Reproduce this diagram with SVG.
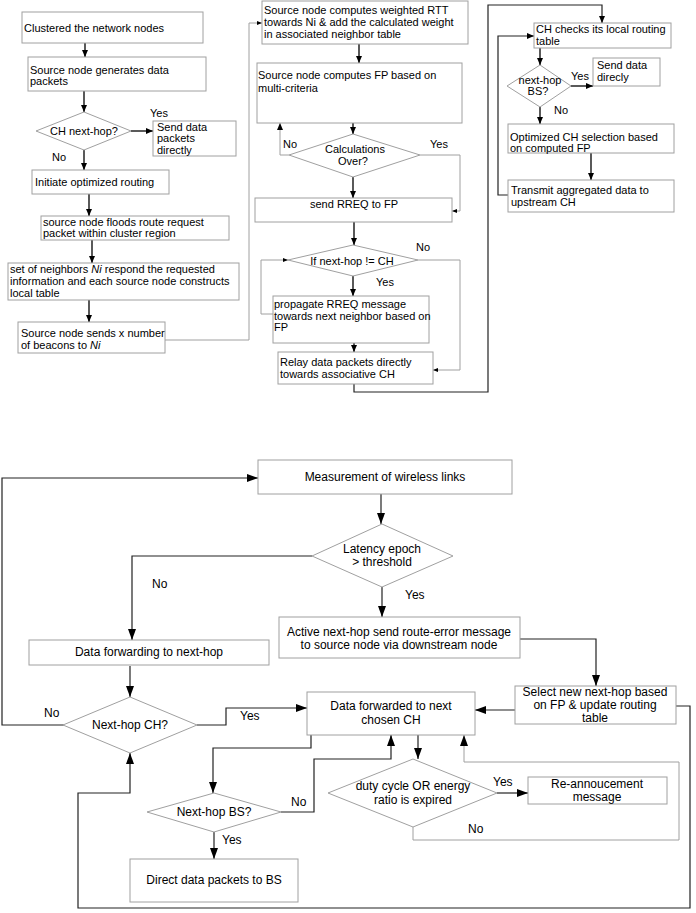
<svg xmlns="http://www.w3.org/2000/svg" width="696" height="913" viewBox="0 0 696 913">
<defs>
<marker id="ah" markerWidth="7" markerHeight="6" refX="7" refY="3" orient="auto" markerUnits="userSpaceOnUse"><path d="M0,0 L7,3 L0,6 z" fill="#000"/></marker>
<marker id="ahs" markerWidth="5" markerHeight="4" refX="5" refY="2" orient="auto" markerUnits="userSpaceOnUse"><path d="M0,0 L5,2 L0,4 z" fill="#000"/></marker>
<marker id="ahb" markerWidth="11" markerHeight="8" refX="11" refY="4" orient="auto" markerUnits="userSpaceOnUse"><path d="M0,0 L11,4 L0,8 z" fill="#000"/></marker>
</defs>
<style>
.box{fill:#fff;stroke:#a0a0a0;stroke-width:1}
.t{font-family:"Liberation Sans",Arial,sans-serif;font-size:11px;fill:#000}
.b{font-family:"Liberation Sans",Arial,sans-serif;font-size:12px;fill:#000}
.c{text-anchor:middle}
.k{fill:none;stroke:#000;stroke-width:1.3}
.g{fill:none;stroke:#a0a0a0;stroke-width:1}
.d{fill:none;stroke:#222;stroke-width:1.2}
</style>
<rect width="696" height="913" fill="#fff"/>

<g id="connectors">
<path class="k" d="M85,43 V57" marker-end="url(#ah)"/>
<path class="k" d="M84,91 V112" marker-end="url(#ah)"/>
<path class="k" d="M131,131 H153" marker-end="url(#ah)"/>
<path class="k" d="M84,150 V170" marker-end="url(#ah)"/>
<path class="k" d="M89,194 V216" marker-end="url(#ah)"/>
<path class="k" d="M92,240 V263" marker-end="url(#ah)"/>
<path class="k" d="M89,300 V322" marker-end="url(#ah)"/>
<path class="g" d="M165,340 H249 V23 H262" marker-end="url(#ahs)"/>
<path class="k" d="M359,44 V63" marker-end="url(#ah)"/>
<path class="k" d="M353,123 V134" marker-end="url(#ah)"/>
<path class="g" d="M289,155 H280 V123" marker-end="url(#ah)"/>
<path class="g" d="M420,155 H460 V211 H452" marker-end="url(#ahs)"/>
<path class="k" d="M353,177 V198" marker-end="url(#ah)"/>
<path class="k" d="M354,222 V245" marker-end="url(#ah)"/>
<path class="g" d="M418,260 H460 V370 H433" marker-end="url(#ahs)"/>
<path class="k" d="M353,276 V296" marker-end="url(#ah)"/>
<path class="g" d="M273,314 H261 V260 H288" marker-end="url(#ahs)"/>
<path class="k" d="M354,343 V352" marker-end="url(#ah)"/>
<path class="d" d="M354,384 V392 H488 V5 H602 V23" marker-end="url(#ah)"/>
<path class="k" d="M540,48 V65" marker-end="url(#ah)"/>
<path class="k" d="M571,86 H593" marker-end="url(#ah)"/>
<path class="k" d="M540,107 V124" marker-end="url(#ah)"/>
<path class="k" d="M591,153 V180" marker-end="url(#ah)"/>
<path class="d" d="M508,195 H498 V36 H534" marker-end="url(#ah)"/>

<path class="d" d="M64,725 H2 V478 H258" marker-end="url(#ahb)"/>
<path class="d" d="M381,494 V524" marker-end="url(#ahb)"/>
<path class="d" d="M312,556 H132 V640" marker-end="url(#ahb)"/>
<path class="d" d="M382,587 V617" marker-end="url(#ahb)"/>
<path class="d" d="M520,639 H596 V686" marker-end="url(#ahb)"/>
<path class="d" d="M515,710 H475" marker-end="url(#ahb)"/>
<path class="d" d="M676,706 H690 V908 H78 V793 H130 V753" marker-end="url(#ahb)"/>
<path class="d" d="M130,666 V697" marker-end="url(#ahb)"/>
<path class="d" d="M197,725 H226 V708 H307" marker-end="url(#ahb)"/>
<path class="d" d="M311,735 V748 H213 V793" marker-end="url(#ahb)"/>
<path class="d" d="M214,832 V859" marker-end="url(#ahb)"/>
<path class="d" d="M281,812 H314 V759 H391 V735" marker-end="url(#ahb)"/>
<path class="d" d="M418,735 V759" marker-end="url(#ahb)"/>
<path class="d" d="M497,793 H528" marker-end="url(#ahb)"/>
<path class="g" d="M413,827 V840 H679 V762 H464 V735" marker-end="url(#ahb)"/>
</g>

<g id="labels">
<text class="t" x="150" y="117">Yes</text>
<text class="t" x="52" y="161">No</text>
<text class="t" x="283" y="148">No</text>
<text class="t" x="430" y="148">Yes</text>
<text class="t" x="416" y="251">No</text>
<text class="t" x="376" y="286">Yes</text>
<text class="t" x="571" y="80">Yes</text>
<text class="t" x="554" y="114">No</text>
<text class="b" x="152" y="588">No</text>
<text class="b" x="405" y="599">Yes</text>
<text class="b" x="44" y="717">No</text>
<text class="b" x="240" y="720">Yes</text>
<text class="b" x="291" y="806">No</text>
<text class="b" x="222" y="844">Yes</text>
<text class="b" x="493" y="786">Yes</text>
<text class="b" x="468" y="833">No</text>
</g>

<g id="n1"><rect class="box" x="22" y="12" width="181" height="31"/><text class="t" x="24" y="32">Clustered the network nodes</text></g>
<g id="n2"><rect class="box" x="28" y="57" width="178" height="34"/><text class="t" x="30" y="74">Source node generates data</text><text class="t" x="30" y="85">packets</text></g>
<g id="n3"><polygon class="box" points="84,112 131,131 84,150 36,131"/><text class="t c" x="84" y="135">CH next-hop?</text></g>
<g id="n4"><rect class="box" x="153" y="121" width="83" height="35"/><text class="t" x="157" y="131">Send data</text><text class="t" x="157" y="142">packets</text><text class="t" x="157" y="154">directly</text></g>
<g id="n5"><rect class="box" x="32" y="170" width="137" height="24"/><text class="t" x="35" y="186">Initiate optimized routing</text></g>
<g id="n6"><rect class="box" x="41" y="216" width="188" height="24"/><text class="t" x="43" y="226">source node floods route request</text><text class="t" x="43" y="237">packet within cluster region</text></g>
<g id="n7"><rect class="box" x="8" y="263" width="231" height="37"/><text class="t" x="10" y="273">set of neighbors <tspan font-style="italic">Ni</tspan> respond the requested</text><text class="t" x="10" y="285">information and each source node constructs</text><text class="t" x="10" y="297">local table</text></g>
<g id="n8"><rect class="box" x="18" y="322" width="147" height="31"/><text class="t" x="21" y="337">Source node sends x number</text><text class="t" x="21" y="349">of beacons to <tspan font-style="italic">Ni</tspan></text></g>

<g id="n9"><rect class="box" x="262" y="1" width="206" height="43"/><text class="t" x="264" y="14">Source node computes weighted RTT</text><text class="t" x="264" y="26">towards Ni &amp; add the calculated weight</text><text class="t" x="264" y="38">in associated neighbor table</text></g>
<g id="n10"><rect class="box" x="257" y="63" width="205" height="60"/><text class="t" x="258" y="79">Source node computes FP based on</text><text class="t" x="258" y="92">multi-criteria</text></g>
<g id="n11"><polygon class="box" points="353,134 420,155 353,177 289,155"/><text class="t c" x="355" y="153">Calculations</text><text class="t c" x="353" y="165">Over?</text></g>
<g id="n12"><rect class="box" x="255" y="198" width="197" height="24"/><text class="t c" x="354" y="208">send RREQ to FP</text></g>
<g id="n13"><polygon class="box" points="353,245 418,260 353,276 288,260"/><text class="t c" x="352" y="265">If next-hop != CH</text></g>
<g id="n14"><rect class="box" x="273" y="296" width="156" height="47"/><text class="t" x="274" y="308">propagate RREQ message</text><text class="t" x="274" y="320">towards next neighbor based on</text><text class="t" x="274" y="331">FP</text></g>
<g id="n15"><rect class="box" x="278" y="352" width="155" height="32"/><text class="t" x="280" y="366">Relay data packets directly</text><text class="t" x="280" y="378">towards associative CH</text></g>

<g id="n16"><rect class="box" x="534" y="23" width="137" height="25"/><text class="t" x="536" y="33">CH checks its local routing</text><text class="t" x="536" y="45">table</text></g>
<g id="n17"><polygon class="box" points="540,65 571,86 540,107 507,86"/><text class="t c" x="540" y="84">next-hop</text><text class="t c" x="538" y="95">BS?</text></g>
<g id="n18"><rect class="box" x="593" y="58" width="67" height="28"/><text class="t" x="597" y="69">Send data</text><text class="t" x="597" y="81"> direcly</text></g>
<g id="n19"><rect class="box" x="508" y="124" width="166" height="29"/><text class="t" x="510" y="141">Optimized CH selection based</text><text class="t" x="510" y="152">on computed FP</text></g>
<g id="n20"><rect class="box" x="508" y="180" width="166" height="32"/><text class="t" x="511" y="194">Transmit aggregated data to</text><text class="t" x="511" y="206">upstream CH</text></g>

<g id="m1"><rect class="box" x="258" y="460" width="254" height="34"/><text class="b c" x="385" y="481">Measurement of wireless links</text></g>
<g id="m2"><polygon class="box" points="382,524 453,556 382,587 312,556"/><text class="b c" x="382" y="553">Latency epoch</text><text class="b c" x="382" y="566">&gt; threshold</text></g>
<g id="m3"><rect class="box" x="279" y="617" width="241" height="41"/><text class="b c" x="399" y="636">Active next-hop send route-error message</text><text class="b c" x="399" y="649">to source node via downstream node</text></g>
<g id="m4"><rect class="box" x="29" y="640" width="240" height="25"/><text class="b c" x="149" y="656">Data forwarding to next-hop</text></g>
<g id="m5"><polygon class="box" points="130,697 197,725 130,753 63,725"/><text class="b c" x="130" y="729">Next-hop CH?</text></g>
<g id="m6"><rect class="box" x="515" y="686" width="161" height="38"/><text class="b c" x="595" y="696">Select new next-hop based</text><text class="b c" x="595" y="709">on FP &amp; update routing</text><text class="b c" x="595" y="722">table</text></g>
<g id="m7"><rect class="box" x="307" y="692" width="168" height="43"/><text class="b c" x="391" y="710">Data forwarded to next</text><text class="b c" x="391" y="724">chosen CH</text></g>
<g id="m8"><polygon class="box" points="214,793 281,812 214,832 147,812"/><text class="b c" x="214" y="816">Next-hop BS?</text></g>
<g id="m9"><polygon class="box" points="413,759 497,793 413,827 328,793"/><text class="b c" x="413" y="790">duty cycle OR energy</text><text class="b c" x="413" y="804">ratio is expired</text></g>
<g id="m10"><rect class="box" x="528" y="777" width="139" height="27"/><text class="b c" x="597" y="788">Re-annoucement</text><text class="b c" x="597" y="801">message</text></g>
<g id="m11"><rect class="box" x="130" y="859" width="168" height="43"/><text class="b c" x="214" y="884">Direct data packets to BS</text></g>
</svg>
